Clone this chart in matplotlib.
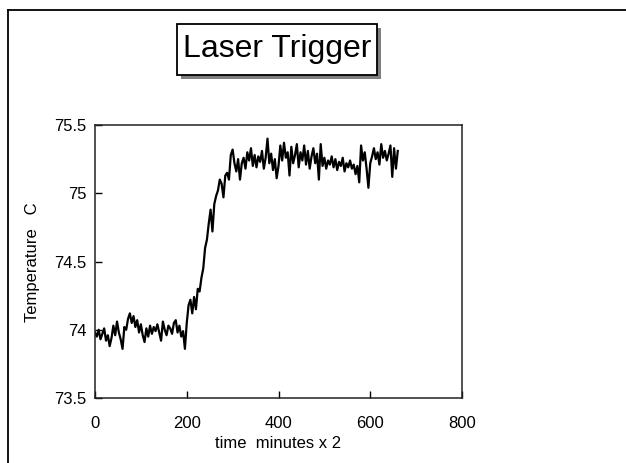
import numpy as np
import matplotlib
matplotlib.use("Agg")
import matplotlib.pyplot as plt
from matplotlib.patches import Rectangle
from matplotlib.lines import Line2D

plt.rcParams['font.family'] = ['Liberation Sans', 'DejaVu Sans']

title = "Laser Trigger"
x_label = "time  minutes x 2"
y_label = "Temperature   C"
x_ticks = [0, 200, 400, 600, 800]
y_ticks = [73.5, 74, 74.5, 75, 75.5]
y_tick_labels = ["73.5", "74", "74.5", "75", "75.5"]

time = np.arange(0, 661, 4)
temperature = [
    73.98, 73.95, 74.00, 73.93, 73.97, 74.01, 73.92, 73.96, 73.88, 73.94,
    74.03, 73.96, 74.06, 73.98, 73.93, 73.86, 74.02, 74.00, 74.08, 74.12,
    74.05, 74.10, 74.02, 74.07, 73.98, 74.04, 73.96, 73.91, 74.01, 73.95,
    74.03, 73.97, 74.02, 73.99, 74.04, 73.98, 73.92, 74.06, 74.00, 73.96,
    74.03, 74.01, 73.97, 74.05, 74.07, 73.98, 74.03, 73.95, 73.99, 73.86,
    74.05, 74.18, 74.22, 74.12, 74.24, 74.15, 74.30, 74.28, 74.38, 74.45,
    74.60, 74.66, 74.78, 74.88, 74.72, 74.92, 74.98, 75.02, 75.10, 75.07,
    74.97, 75.13, 75.15, 75.10, 75.28, 75.32, 75.22, 75.16, 75.25, 75.10,
    75.22, 75.26, 75.18, 75.30, 75.24, 75.33, 75.20, 75.28, 75.19, 75.27,
    75.23, 75.31, 75.18, 75.26, 75.40, 75.22, 75.29, 75.17, 75.25, 75.11,
    75.20, 75.35, 75.24, 75.37, 75.26, 75.30, 75.13, 75.34, 75.22, 75.28,
    75.36, 75.19, 75.30, 75.24, 75.35, 75.21, 75.31, 75.18, 75.27, 75.33,
    75.22, 75.29, 75.10, 75.36, 75.20, 75.26, 75.18, 75.24, 75.21, 75.27,
    75.19, 75.25, 75.17, 75.23, 75.20, 75.26, 75.16, 75.22, 75.19, 75.24,
    75.18, 75.21, 75.14, 75.20, 75.08, 75.35, 75.24, 75.30, 75.18, 75.04,
    75.22, 75.27, 75.33, 75.25, 75.30, 75.21, 75.36, 75.26, 75.31, 75.24,
    75.29, 75.35, 75.12, 75.33, 75.18, 75.31,
]

W, H = 626, 463
fig = plt.figure(figsize=(W / 100, H / 100), dpi=100)

def fx(px):
    return px / W

def fy(py):
    return 1 - py / H

# outer frame (top and left)
fig.add_artist(Line2D([fx(8), fx(626)], [fy(10), fy(10)], color='black', lw=1.3))
fig.add_artist(Line2D([fx(8), fx(8)], [fy(10), fy(463)], color='black', lw=1.3))

# axes
ax = fig.add_axes([fx(95), fy(398), fx(462) - fx(95), fy(125) - fy(398)])
ax.plot(time, temperature, color='black', lw=1.6)
ax.set_xlim(0, 800)
ax.set_ylim(73.5, 75.5)
ax.set_xticks(x_ticks)
ax.set_yticks(y_ticks)
ax.set_yticklabels(y_tick_labels)
ax.tick_params(direction='in', length=5, width=1, labelsize=12, color='black')
ax.tick_params(axis='x', pad=13)
ax.tick_params(axis='y', pad=6)
for s in ax.spines.values():
    s.set_linewidth(1.1)
    s.set_color('#222222')

fig.text(fx(278), fy(443), x_label, ha='center', va='center', fontsize=12)
fig.text(fx(32), fy(262), y_label, ha='center', va='center', fontsize=12, rotation=90)

# title box with shadow
bx0, bx1, by0, by1 = 177, 377, 24, 75
fig.add_artist(Rectangle((fx(bx0 + 4), fy(by1 + 4)), fx(bx1) - fx(bx0), fy(by0) - fy(by1),
                         facecolor='#808080', edgecolor='none'))
fig.add_artist(Rectangle((fx(bx0), fy(by1)), fx(bx1) - fx(bx0), fy(by0) - fy(by1),
                         facecolor='white', edgecolor='black', lw=1.3))
fig.text(fx((bx0 + bx1) / 2), fy((by0 + by1) / 2), title, ha='center', va='center', fontsize=23)

fig.savefig("out.png", dpi=100)
